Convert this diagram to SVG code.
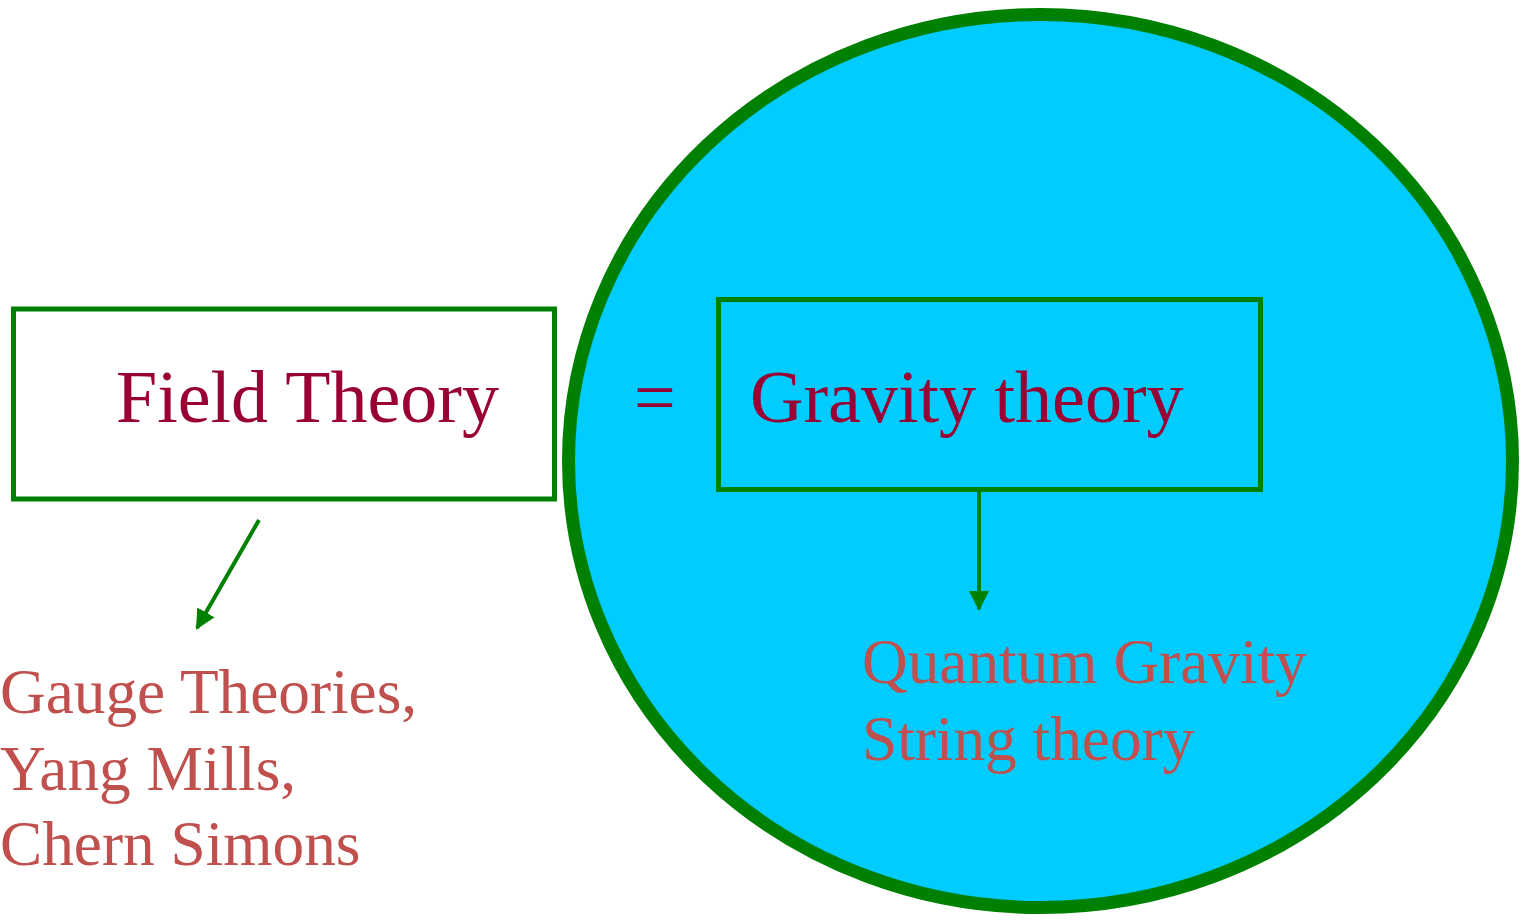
<svg xmlns="http://www.w3.org/2000/svg" width="1522" height="920" viewBox="0 0 1522 920">
<style>
.box{fill:none;stroke:#008000;stroke-width:5}
.title{font-family:"Liberation Serif",serif;font-size:74px;fill:#990033}
.sub{font-family:"Liberation Serif",serif;font-size:63.3px;fill:#C0504D}
.conn{stroke:#008000;stroke-width:4;fill:none}
</style>
<defs>
<marker id="ah" viewBox="0 0 10 10" refX="9" refY="5" markerWidth="5" markerHeight="5" orient="auto" markerUnits="strokeWidth">
<path d="M0,0 L10,5 L0,10 Z" fill="#008000"/>
</marker>
</defs>
<rect width="1522" height="920" fill="#ffffff"/>
<g id="circle">
<ellipse cx="1040.5" cy="461" rx="472" ry="446.5" fill="#00CCFF" stroke="#008000" stroke-width="13"/>
</g>
<g id="field-theory">
<rect class="box" x="13.5" y="309" width="541" height="190" style="fill:#ffffff"/>
<text class="title" x="116" y="422">Field Theory</text>
</g>
<g id="equals">
<text class="title" x="634" y="422">=</text>
</g>
<g id="gravity-theory">
<rect class="box" x="718.5" y="299.5" width="542" height="190"/>
<text class="title" x="750" y="422">Gravity theory</text>
</g>
<g id="gauge">
<text class="sub" x="0" y="713">Gauge Theories,</text>
<text class="sub" x="0" y="790">Yang Mills,</text>
<text class="sub" x="0" y="865">Chern Simons</text>
</g>
<g id="quantum">
<text class="sub" x="862" y="683">Quantum Gravity</text>
<text class="sub" x="862" y="760">String theory</text>
</g>
<g id="connectors">
<line class="conn" x1="259" y1="520" x2="197" y2="628" marker-end="url(#ah)"/>
<line class="conn" x1="979" y1="492" x2="979" y2="609" marker-end="url(#ah)"/>
</g>
</svg>
